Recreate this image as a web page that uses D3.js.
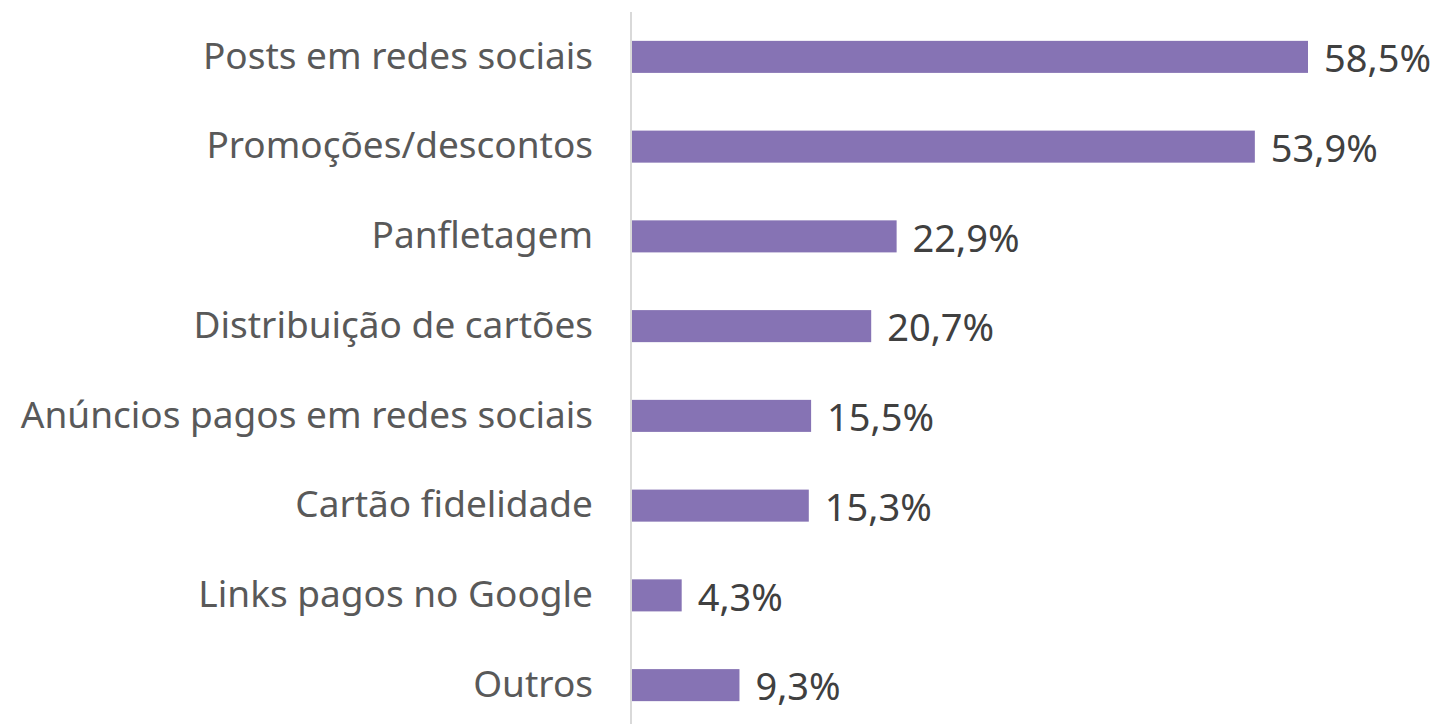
<!DOCTYPE html>
<html>
<head>
<meta charset="utf-8">
<script src="https://cdn.jsdelivr.net/npm/d3@7"></script>
<style>
  body { margin: 0; background: #fff; }
</style>
</head>
<body>
<div id="chart"></div>
<script>
// Chart data
const categories = [
  "Posts em redes sociais",
  "Promoções/descontos",
  "Panfletagem",
  "Distribuição de cartões",
  "Anúncios pagos em redes sociais",
  "Cartão fidelidade",
  "Links pagos no Google",
  "Outros"
];
const values = [58.5, 53.9, 22.9, 20.7, 15.5, 15.3, 4.3, 9.3];
const valueLabels = ["58,5%", "53,9%", "22,9%", "20,7%", "15,5%", "15,3%", "4,3%", "9,3%"];

const data = categories.map((c, i) => ({ name: c, value: values[i], label: valueLabels[i] }));

const width = 1440;
const height = 724;
const margins = { top: 12, right: 20, bottom: -6, left: 632 };

const x = d3.scaleLinear()
  .domain([0, 58.5])
  .range([margins.left, 1308]);
const y = d3.scaleBand()
  .domain(categories)
  .range([margins.top, height - margins.bottom])
  .paddingInner(0.643)
  .paddingOuter(0.3215);

const svg = d3.select("#chart").append("svg")
  .attr("width", width)
  .attr("height", height)
  .attr("viewBox", [0, 0, width, height])
  .style("font-family", "'Segoe UI', 'Noto Sans', sans-serif");

// Bars
svg.append("g")
  .attr("fill", "#8673B4")
  .selectAll("rect")
  .data(data)
  .join("rect")
  .attr("x", x(0))
  .attr("y", d => y(d.name))
  .attr("width", d => x(d.value) - x(0))
  .attr("height", y.bandwidth());

// Vertical axis line + category labels
svg.append("g")
  .attr("transform", `translate(${x(0) - 1},0)`)
  .call(d3.axisLeft(y).tickSize(0).tickPadding(38))
  .call(g => g.select(".domain")
      .attr("stroke", "#D9D9D9")
      .attr("stroke-width", 2)
      .attr("d", `M0,${margins.top}V${height}`))
  .call(g => g.selectAll("text")
      .attr("fill", "#595959")
      .attr("font-size", "37px")
      .attr("font-family", "'Segoe UI', 'Noto Sans', sans-serif")
      .attr("dy", "0.32em"));

// Value labels
svg.append("g")
  .selectAll("text")
  .data(data)
  .join("text")
  .attr("x", d => x(d.value) + 16)
  .attr("y", d => y(d.name) + y.bandwidth() / 2)
  .attr("dy", "0.4em")
  .attr("fill", "#404040")
  .attr("font-size", "38px")
  .text(d => d.label);
</script>
</body>
</html>
